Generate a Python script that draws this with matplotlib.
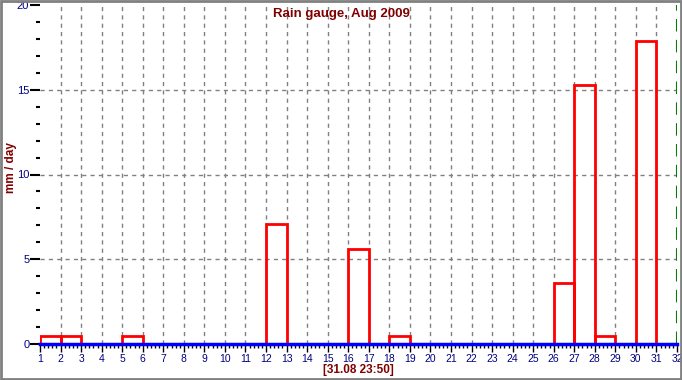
import numpy as np
import matplotlib.pyplot as plt
from matplotlib.patches import Rectangle
from matplotlib.ticker import MultipleLocator

plt.rcParams["font.family"] = ["Liberation Sans", "DejaVu Sans"]

# daily rain, mm / day (bar starts at the day number)
days = [1, 2, 5, 12, 16, 18, 26, 27, 28, 30]
rain = [0.5, 0.5, 0.5, 7.1, 5.6, 0.5, 3.6, 15.3, 0.5, 17.9]

fig = plt.figure(figsize=(6.82, 3.80), dpi=100)
fig.patch.set_facecolor("white")
ax = fig.add_axes((40 / 682, 36 / 380, 637 / 682, 339 / 380))

for s in ["left", "right", "top"]:
    ax.spines[s].set_visible(False)
ax.spines["bottom"].set_color("blue")
ax.spines["bottom"].set_linewidth(2.5)
ax.spines["bottom"].set_zorder(5)

ax.set_xlim(1, 32)
ax.set_ylim(0, 20)

ax.xaxis.set_major_locator(MultipleLocator(1))
ax.xaxis.set_minor_locator(MultipleLocator(0.2))
ax.yaxis.set_major_locator(MultipleLocator(5))
ax.yaxis.set_minor_locator(MultipleLocator(1))

# tick lengths in points (100 dpi -> 1 px = 0.72 pt)
ax.tick_params(axis="x", which="major", length=5.5, width=1, color="black",
               labelsize=7.5, labelcolor="#000080", pad=2)
ax.tick_params(axis="x", which="minor", length=3, width=1, color="black")
ax.tick_params(axis="y", which="major", length=7.2, width=1.5, color="black",
               labelsize=8, labelcolor="#000080", pad=0.5)
ax.tick_params(axis="y", which="minor", length=3, width=1.5, color="black", pad=4)

# dashed grid inside the plot (not on the frame edges)
for d in range(2, 32):
    ax.axvline(d, color="gray", linestyle=(0, (3, 3)), linewidth=1, zorder=1)
for v in (5, 10, 15):
    ax.axhline(v, color="gray", linestyle=(0, (3, 3)), linewidth=1, zorder=1)

ax.bar(days, rain, width=1, align="edge", fill=False, edgecolor="red",
       linewidth=2, zorder=3)

ax.axvline(32, color="green", linestyle=(0, (6, 4)), linewidth=1.5, zorder=4)

fig.text(0.5, 1 - 14 / 380, "Rain gauge, Aug 2009", color="#800000",
         fontsize=9.5, fontweight="bold", ha="center", va="center")
ax.set_xlabel("[31.08 23:50]", color="#800000", fontsize=8.5,
              fontweight="bold", labelpad=0)
ax.set_ylabel("mm / day", color="#800000", fontsize=8.5, fontweight="bold")
ax.yaxis.set_label_coords(-23 / 637, 0.52)

fig.patches.append(Rectangle((0.001, 0.002), 0.997, 0.996, transform=fig.transFigure,
                             fill=False, edgecolor="gray", linewidth=2))

fig.savefig("out.png", dpi=100)
